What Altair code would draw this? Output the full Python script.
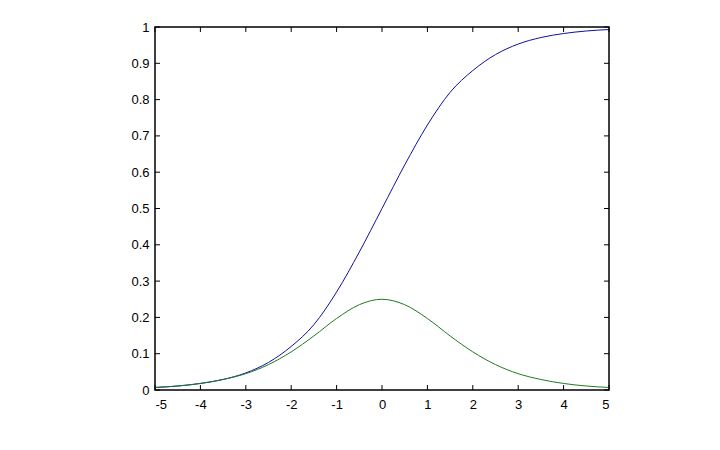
import altair as alt
import pandas as pd

x_vals = [-5, -4.5, -4, -3.5, -3, -2.5, -2, -1.5, -1, -0.5, 0, 0.5, 1, 1.5, 2, 2.5, 3, 3.5, 4, 4.5, 5]
blue_vals = [0.007, 0.011, 0.018, 0.029, 0.047, 0.076, 0.12, 0.18, 0.27, 0.38, 0.5,
             0.62, 0.73, 0.82, 0.88, 0.924, 0.953, 0.971, 0.982, 0.989, 0.993]
green_vals = [0.007, 0.011, 0.018, 0.029, 0.045, 0.07, 0.105, 0.149, 0.197, 0.235, 0.25,
              0.235, 0.197, 0.149, 0.105, 0.07, 0.045, 0.029, 0.018, 0.011, 0.007]
x_ticks = [-5, -4, -3, -2, -1, 0, 1, 2, 3, 4, 5]
y_ticks = [0, 0.1, 0.2, 0.3, 0.4, 0.5, 0.6, 0.7, 0.8, 0.9, 1]

W, H = 454, 363

df = pd.DataFrame({
    "x": x_vals * 2,
    "y": blue_vals + green_vals,
    "s": ["blue"] * len(x_vals) + ["green"] * len(x_vals),
})

xs = alt.Scale(domain=[-5, 5], nice=False, zero=False)
ys = alt.Scale(domain=[0, 1], nice=False, zero=False)

xaxis = alt.Axis(values=x_ticks, title=None, grid=False, domain=False, tickSize=0,
                 labelPadding=8, labelFontSize=13, labelColor="black", labelFont="Liberation Sans",
                 labelOverlap=False, labelExpr="'' + datum.value")
yaxis = alt.Axis(values=y_ticks, title=None, grid=False, domain=False, tickSize=0,
                 labelPadding=6, labelFontSize=13, labelColor="black", labelFont="Liberation Sans",
                 labelOverlap=False,
                 labelExpr="datum.value == 0 || datum.value == 1 ? format(datum.value, 'd') : format(datum.value, '.1f')")

lines = alt.Chart(df).mark_line(strokeWidth=1, interpolate="monotone").encode(
    x=alt.X("x:Q", scale=xs, axis=xaxis),
    y=alt.Y("y:Q", scale=ys, axis=yaxis),
    color=alt.Color("s:N", scale=alt.Scale(domain=["blue", "green"], range=["#1010a0", "#1f7a1f"]), legend=None),
)

xt = pd.DataFrame({"t": x_ticks})
yt = pd.DataFrame({"t": y_ticks})

bx = alt.Chart(xt).mark_rule(color="black", strokeWidth=1).encode(
    x=alt.X("t:Q", scale=xs, axis=xaxis), y=alt.value(H), y2=alt.value(H - 5))
tx = alt.Chart(xt).mark_rule(color="black", strokeWidth=1).encode(
    x=alt.X("t:Q", scale=xs, axis=xaxis), y=alt.value(0), y2=alt.value(5))
ly = alt.Chart(yt).mark_rule(color="black", strokeWidth=1).encode(
    y=alt.Y("t:Q", scale=ys, axis=yaxis), x=alt.value(0), x2=alt.value(5))
ry = alt.Chart(yt).mark_rule(color="black", strokeWidth=1).encode(
    y=alt.Y("t:Q", scale=ys, axis=yaxis), x=alt.value(W - 5), x2=alt.value(W))

chart = alt.layer(lines, bx, tx, ly, ry).properties(
    width=W, height=H,
    autosize=alt.AutoSizeParams(type="none"),
    padding={"left": 147, "top": 19, "right": 95, "bottom": 60},
    background="white",
).configure_view(stroke="black", strokeWidth=1.5)

chart.save("out.html", embed_options={"renderer": "svg", "actions": False})
